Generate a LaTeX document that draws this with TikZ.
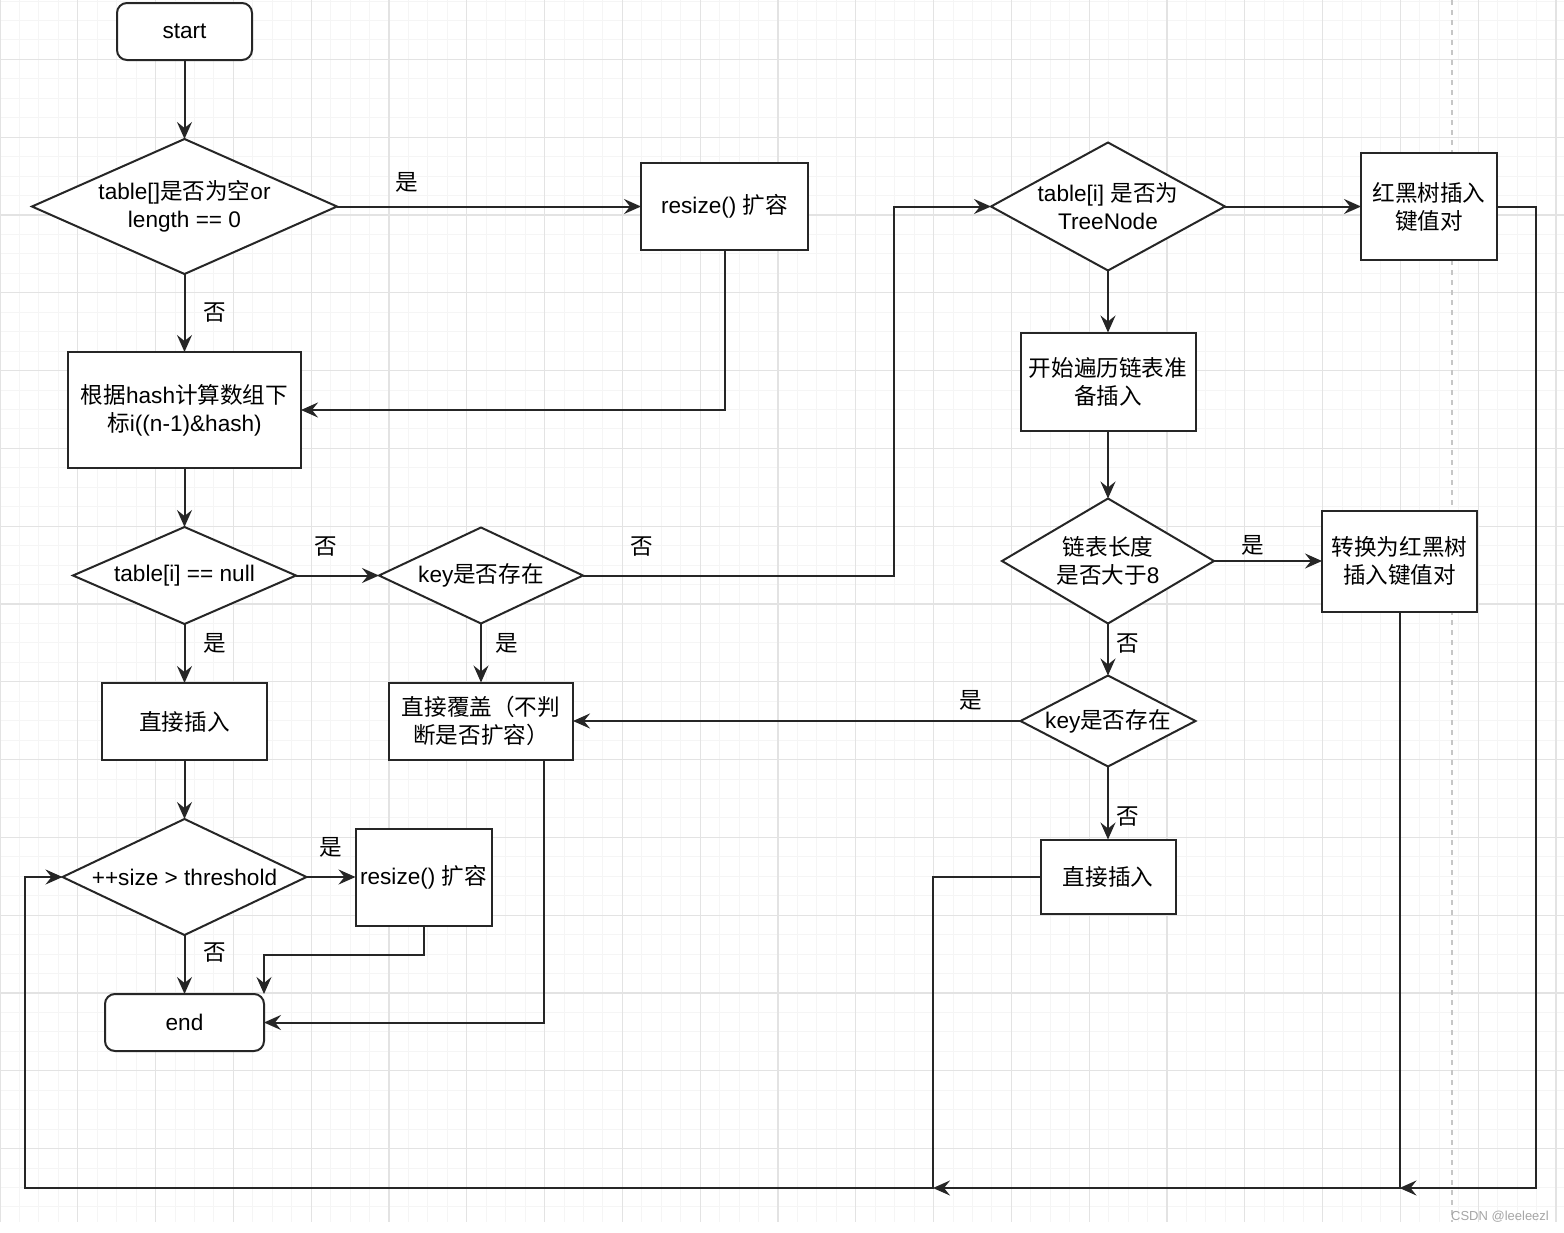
\documentclass[tikz,border=0pt]{standalone}
\usepackage{fontspec}
\usepackage{tikz}
\setmainfont{Liberation Sans}
\newfontfamily\cjk{Noto Sans CJK SC}
\usetikzlibrary{shapes,arrows,positioning,calc,arrows.meta}
\newcommand{\zh}[1]{{\cjk #1}}

\begin{document}
\begin{tikzpicture}[x=0.5pt, y=-0.5pt,
    font=\fontsize{11.3pt}{14pt}\selectfont,
    hm block/.style={rectangle, draw=black!85, line width=1pt, fill=white, align=center, inner sep=2pt, outer sep=0pt},
    hm term/.style={hm block, rounded corners=5pt},
    hm decision/.style={diamond, draw=black!85, line width=1pt, fill=white, align=center, inner sep=0pt, outer sep=0pt},
    hm arrow/.style={-{Stealth[length=8.5pt,width=7.5pt,inset=3pt]}, line width=1pt, draw=black!85},
    hm label/.style={inner sep=1pt, font=\fontsize{11.3pt}{14pt}\cjk},
    grid minor/.style={draw=gray!8, line width=0.5pt},
    grid major/.style={draw=gray!22, line width=0.6pt}]

    % page and grid
    \fill[white] (0,0) rectangle (1564,1232);
    \useasboundingbox (0,0) rectangle (1564,1232);
    \foreach \k in {0,...,80} \draw[grid minor] (\k*19.45,0) -- (\k*19.45,1222);
    \foreach \k in {0,...,62} \draw[grid minor] (0,1+\k*19.45) -- (1564,1+\k*19.45);
    \foreach \k in {0,...,20} \draw[grid major] (\k*77.8,0) -- (\k*77.8,1222);
    \foreach \k in {0,...,14} \draw[grid major] (0,59.35+\k*77.8) -- (1564,59.35+\k*77.8);
    \draw[gray!45, line width=1.3pt, dash pattern=on 2.5pt off 2.5pt] (1452,0) -- (1452,1222);

    % left part
    \node [hm term, minimum width=67.5pt, minimum height=28.5pt] (start) at (184.5,31.5) {start};
    \node [hm decision, shape aspect=2.26, below=39.5pt of start, minimum width=152.5pt, minimum height=67.5pt] (empty) {table[]\zh{是否为空}or\\length == 0};
    \node [hm block, right=152pt of empty, minimum width=83.5pt, minimum height=43.5pt] (resize) {resize() \zh{扩容}};
    \node [hm block, below=39pt of empty, minimum width=116.5pt, minimum height=58pt] (index) {\zh{根据}hash\zh{计算数组下}\\\zh{标}i((n-1)\&hash)};
    \node [hm decision, shape aspect=2.3, below=29.5pt of index, minimum width=111.5pt, minimum height=48.5pt] (isnull) {table[i] == null};
    \node [hm decision, shape aspect=2.12, right=41.5pt of isnull, minimum width=102pt, minimum height=48pt] (haskey) {key\zh{是否存在}};
    \node [hm block, below=29.5pt of isnull, minimum width=82.5pt, minimum height=38.5pt] (put) {\zh{直接插入}};
    \node [hm block, below=29.5pt of haskey, minimum width=92pt, minimum height=38.5pt] (cover) {\zh{直接覆盖（不判}\\\zh{断是否扩容）}};
    \node [hm decision, shape aspect=2.1, below=29.5pt of put, minimum width=122pt, minimum height=58pt] (size) {++size > threshold};
    \node [hm block, right=24.5pt of size, minimum width=68pt, minimum height=48.5pt] (resize2) {resize() \zh{扩容}};
    \node [hm term, below=29.5pt of size, minimum width=79.5pt, minimum height=28.5pt] (end) {end};

    % right part
    \node [hm decision, shape aspect=1.83, right=91.5pt of resize, minimum width=117pt, minimum height=64pt] (tree) {table[i] \zh{是否为}\\TreeNode};
    \node [hm block, right=68pt of tree, minimum width=68pt, minimum height=53.5pt] (rbput) {\zh{红黑树插入}\\\zh{键值对}};
    \node [hm block, below=31pt of tree, minimum width=87.5pt, minimum height=49pt] (walk) {\zh{开始遍历链表准}\\\zh{备插入}};
    \node [hm decision, shape aspect=1.7, below=34pt of walk, minimum width=106pt, minimum height=62.5pt] (len) {\zh{链表长度}\\\zh{是否大于}8};
    \node [hm block, right=54pt of len, minimum width=77.5pt, minimum height=50.5pt] (treeify) {\zh{转换为红黑树}\\\zh{插入键值对}};
    \node [hm decision, shape aspect=1.92, below=26pt of len, minimum width=87.5pt, minimum height=45.5pt] (haskey2) {key\zh{是否存在}};
    \node [hm block, below=36.5pt of haskey2, minimum width=67.5pt, minimum height=37pt] (put2) {\zh{直接插入}};

    \coordinate (busR) at (1536,1188);
    \coordinate (busM) at (933,1188);
    \coordinate (busL) at (25,1188);

    \draw [hm arrow] (start) -- (empty);
    \draw [hm arrow] (empty) -- node[hm label, above=5.5pt, pos=0.23] {是} (resize);
    \draw [hm arrow] (empty) -- node[hm label, right=7.85pt, pos=0.5] {否} (index);
    \draw [hm arrow] (resize) |- (index);
    \draw [hm arrow] (index) -- (isnull);
    \draw [hm arrow] (isnull) -- node[hm label, above=8.35pt, pos=0.36] {否} (haskey);
    \draw [hm arrow] (haskey.east) -- node[hm label, above=8.35pt, pos=0.19] {否} ++(311,0) |- (tree.west);
    \draw [hm arrow] (isnull) -- node[hm label, right=7.85pt, pos=0.32] {是} (put);
    \draw [hm arrow] (haskey) -- node[hm label, right=5.85pt, pos=0.33] {是} (cover);
    \draw [hm arrow] (put) -- (size);
    \draw [hm arrow] (size) -- node[hm label, above=8.35pt, pos=0.49] {是} (resize2);
    \draw [hm arrow] (size) -- node[hm label, right=7.85pt, pos=0.3] {否} (end);
    \draw [hm arrow] (resize2.south) -- ++(0,29) -| (end.north east);
    \draw [hm arrow] ([xshift=-14.5pt]cover.south east) |- (end.east);

    \draw [hm arrow] (tree) -- (rbput);
    \draw [hm arrow] (tree) -- (walk);
    \draw [hm arrow] (walk) -- (len);
    \draw [hm arrow] (len) -- node[hm label, above=1.35pt, pos=0.36] {是} (treeify);
    \draw [hm arrow] (len) -- node[hm label, right=2.85pt, pos=0.38] {否} (haskey2);
    \draw [hm arrow] (haskey2.west) -- node[hm label, above=3.85pt, pos=0.11] {是} (haskey2.west -| cover.east);
    \draw [hm arrow] (haskey2) -- node[hm label, right=2.85pt, pos=0.68] {否} (put2);

    \draw [hm arrow] (rbput.east) -| (busR) -- (treeify.south |- busR);
    \draw [hm arrow] (treeify.south) -- (treeify.south |- busR) -- (busM);
    \draw [hm arrow] (put2.west) -| (busM) -- (busL) |- (size.west);

    \node [text=gray!70, font=\fontsize{6.5pt}{8pt}\selectfont] (mark) at (1500,1217) {CSDN @leeleezl};

\end{tikzpicture}
\end{document}
